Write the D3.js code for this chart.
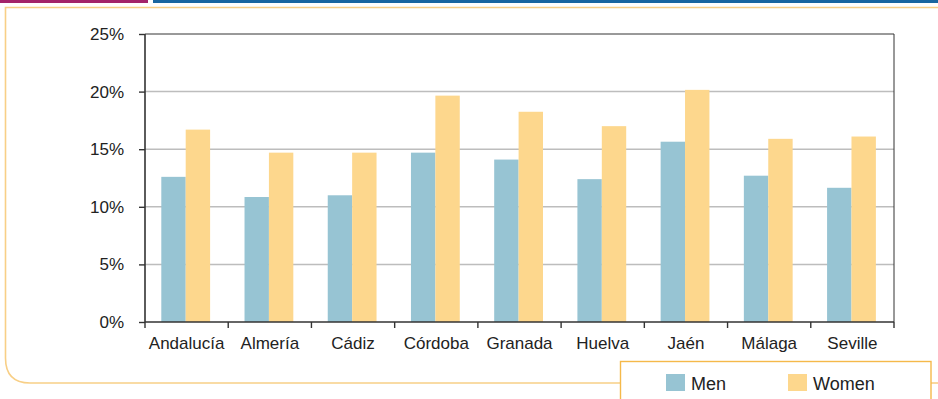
<html>
	<head>
		<meta charset="utf-8">
		<script src="https://d3js.org/d3.v7.min.js"></script>
		<style>
			body { margin: 0; background: #fff; }
			svg { display: block; font-family: "Liberation Sans", Arial, sans-serif; }
		</style>
	</head>
	<body>
		<svg id="chart" width="938" height="399"></svg>
		<script>
			// data
			var provinces = ["Andalucía", "Almería", "Cádiz", "Córdoba", "Granada", "Huelva", "Jaén", "Málaga", "Seville"];
			var men   = [12.6, 10.85, 11.0, 14.7, 14.1, 12.4, 15.65, 12.7, 11.65];
			var women = [16.7, 14.7, 14.7, 19.65, 18.25, 17.0, 20.15, 15.9, 16.1];
			var yTicks = [0, 5, 10, 15, 20, 25];
			var seriesNames = ["Men", "Women"];
			var colours = ["#97c4d3", "#fdd78d"];

			var svg = d3.select("#chart");

			// frame decoration
			svg.append("rect").attr("x", 0).attr("y", 0).attr("width", 148).attr("height", 3).attr("fill", "#a3246a");
			svg.append("rect").attr("x", 153).attr("y", 0).attr("width", 785).attr("height", 3).attr("fill", "#1a66a0");
			svg.append("path")
				.attr("d", "M938,7.5 L5.5,7.5 L5.5,358 Q5.5,383 30,383 L620,383")
				.attr("fill", "none")
				.style("stroke", "#f8cf86")
				.style("stroke-width", 1.6);
			svg.append("line").attr("x1", 931).attr("y1", 383).attr("x2", 938).attr("y2", 383)
				.style("stroke", "#f8cf86").style("stroke-width", 1.6);

			var plotLeft = 145, plotRight = 894, plotTop = 34, plotBottom = 322;

			var x = d3.scaleBand().domain(provinces).range([plotLeft, plotRight]);
			var y = d3.scaleLinear().domain([0, 25]).range([plotBottom, plotTop]);

			// gridlines
			svg.append("g").selectAll("line").data(yTicks.slice(1)).join("line")
				.attr("x1", plotLeft).attr("x2", plotRight)
				.attr("y1", function(d){ return y(d); }).attr("y2", function(d){ return y(d); })
				.style("stroke", "#bdbdbd").style("stroke-width", 1.5);

			// bars
			var barW = 24.4, offset = 16.3;
			var groups = [men, women];
			groups.forEach(function(vals, s){
				svg.append("g").selectAll("rect").data(vals).join("rect")
					.attr("x", function(d, i){ return x(provinces[i]) + offset + s * barW; })
					.attr("y", function(d){ return y(d); })
					.attr("width", barW)
					.attr("height", function(d){ return y(0) - y(d); })
					.attr("fill", colours[s]);
			});

			// frame lines
			svg.append("line").attr("x1", plotLeft).attr("x2", plotRight).attr("y1", plotTop).attr("y2", plotTop)
				.style("stroke", "#666").style("stroke-width", 1);
			svg.append("line").attr("x1", plotRight).attr("x2", plotRight).attr("y1", plotTop).attr("y2", plotBottom)
				.style("stroke", "#333").style("stroke-width", 1);

			// y axis
			var yAxis = svg.append("g")
				.attr("transform", "translate(" + plotLeft + ",0)")
				.call(d3.axisLeft(y).tickValues(yTicks).tickSize(6).tickPadding(15).tickFormat(function(d){ return d + "%"; }));
			yAxis.select(".domain").attr("d", "M0," + plotTop + "V" + plotBottom).style("stroke", "#333").style("stroke-width", 1.6);
			yAxis.selectAll(".tick line").style("stroke", "#333").style("stroke-width", 1.4);
			yAxis.selectAll("text").style("font-size", "17px").style("fill", "#222");

			// x axis
			var xAxis = svg.append("g")
				.attr("transform", "translate(0," + plotBottom + ")")
				.call(d3.axisBottom(x).tickSize(0).tickPadding(15));
			xAxis.select(".domain").attr("d", "M" + plotLeft + ",0H" + plotRight).style("stroke", "#333").style("stroke-width", 1.6);
			xAxis.selectAll("text").style("font-size", "17px").style("fill", "#222");
			var bounds = provinces.map(function(p){ return x(p); }).concat([plotRight]);
			xAxis.append("g").selectAll("line").data(bounds).join("line")
				.attr("x1", function(d){ return d; }).attr("x2", function(d){ return d; })
				.attr("y1", 0).attr("y2", 6)
				.style("stroke", "#333").style("stroke-width", 1.4);

			// legend
			var legend = svg.append("g");
			legend.append("rect").attr("x", 620.5).attr("y", 361.5).attr("width", 310.5).attr("height", 50)
				.attr("fill", "#fff").style("stroke", "#f5b94a").style("stroke-width", 1.4);
			var legendX = [666, 788];
			seriesNames.forEach(function(n, i){
				legend.append("rect").attr("x", legendX[i]).attr("y", 374).attr("width", 19).attr("height", 17).attr("fill", colours[i]);
				legend.append("text").attr("x", legendX[i] + 25).attr("y", 390)
					.style("font-size", "18px").style("fill", "#222").text(n);
			});
		</script>
	</body>
</html>
